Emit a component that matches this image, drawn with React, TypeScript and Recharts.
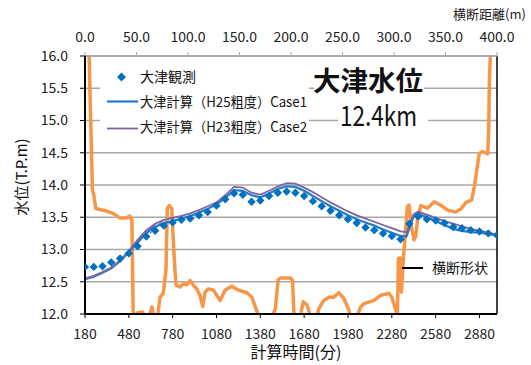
import React from 'react';
import { ComposedChart, Line, Scatter, XAxis, YAxis, CartesianGrid, ReferenceLine } from 'recharts';

// Hourly observed water level at Otsu (T.P.m)
const obsTimes = [
  180, 240, 300, 360, 420, 480, 540, 600, 660, 720, 780, 840, 900, 960, 1020, 1080,
  1140, 1200, 1260, 1320, 1380, 1440, 1500, 1560, 1620, 1680, 1740, 1800, 1860, 1920,
  1980, 2040, 2100, 2160, 2220, 2280, 2340, 2400, 2460, 2520, 2580, 2640, 2700, 2760,
  2820, 2880, 2940, 3000,
];
const obsLevels = [
  12.73, 12.73, 12.74, 12.8, 12.86, 12.94, 13.05, 13.2, 13.29, 13.37, 13.42, 13.46, 13.48, 13.53, 13.58, 13.68,
  13.78, 13.87, 13.85, 13.74, 13.76, 13.83, 13.88, 13.9, 13.88, 13.83, 13.75, 13.67, 13.6, 13.53,
  13.47, 13.41, 13.34, 13.3, 13.25, 13.21, 13.16, 13.4, 13.51, 13.47, 13.45, 13.41, 13.35, 13.33,
  13.3, 13.28, 13.25, 13.22,
];

// Computed water level, shared time steps for both roughness cases
const calcTimes = [
  180, 240, 300, 360, 420, 480, 540, 600, 660, 720, 780, 840, 900, 960, 1020, 1080,
  1140, 1200, 1260, 1320, 1380, 1440, 1500, 1560, 1620, 1680, 1740, 1800, 1860, 1920,
  1980, 2040, 2100, 2160, 2220, 2280, 2340, 2380, 2430, 2460, 2520, 2580, 2640, 2700,
  2760, 2820, 2880, 2940, 3000,
];
const case1Levels = [
  12.54, 12.58, 12.64, 12.71, 12.82, 12.96, 13.12, 13.26, 13.35, 13.41, 13.44, 13.48, 13.52, 13.57, 13.63, 13.7,
  13.8, 13.92, 13.91, 13.84, 13.81, 13.87, 13.94, 13.98, 13.97, 13.91, 13.83, 13.75, 13.67, 13.6,
  13.53, 13.47, 13.42, 13.37, 13.31, 13.26, 13.21, 13.2, 13.52, 13.56, 13.5, 13.44, 13.38, 13.32,
  13.29, 13.27, 13.26, 13.24, 13.22,
];
const case2Levels = [
  12.55, 12.59, 12.65, 12.72, 12.83, 12.98, 13.15, 13.3, 13.4, 13.46, 13.49, 13.52, 13.56, 13.61, 13.67, 13.73,
  13.84, 13.97, 13.96, 13.88, 13.85, 13.91, 13.98, 14.03, 14.02, 13.96, 13.89, 13.81, 13.73, 13.66,
  13.59, 13.53, 13.48, 13.43, 13.38, 13.33, 13.28, 13.27, 13.55, 13.59, 13.54, 13.49, 13.44, 13.4,
  13.36, 13.32, 13.29, 13.26, 13.23,
];

// Short restart traces in the early rising limb: [t0, v0, t1, v1]
const case1Restarts = [
  [500, 13.0, 560, 13.15],
  [540, 13.1, 620, 13.3],
  [590, 13.2, 650, 13.37],
];
const case2Restarts = [
  [489, 12.99, 558, 13.17],
  [512, 13.07, 602, 13.28],
  [546, 13.12, 636, 13.35],
  [580, 13.2, 670, 13.41],
  [626, 13.25, 716, 13.46],
];

// Cross-section profile: horizontal distance (m) vs bed elevation (T.P.m)
const sectionDist = [
  3.5, 4, 7.2, 8.5, 10.4, 14.3, 20, 27.3, 33.8, 40, 43.5, 45.5, 46.2, 46.8, 51, 56, 58, 63, 65, 67, 70,
  72.8, 76, 78.6, 79.9, 81.8, 84.2, 86.4, 88.3, 92.2, 95.5, 98.8, 102, 105, 108, 111.7, 114.3, 116.6,
  119.8, 124.7, 131.2, 136, 142.6, 149, 157.2, 162, 168.5, 172, 180, 184.8, 187.5, 190, 199.4, 201.5,
  203, 208, 212, 215.6, 219, 224, 227, 231.8, 236.7, 241.5, 246.4, 251.3, 256.2, 258, 264, 267.6,
  270.8, 280.5, 287, 295, 298, 301.6, 303.3, 304.3, 305.8, 307.2, 309.1, 310.7, 313, 314.6, 316.9,
  319.5, 321, 322.8, 326, 332.5, 339, 345, 352, 360, 365, 370, 375.5, 378, 382.8, 386, 391, 392,
  392.5, 393.5, 394,
];
const sectionLevels = [
  16.3, 16.0, 13.92, 13.85, 13.64, 13.62, 13.6, 13.56, 13.49, 13.49, 13.52, 13.46, 12.7, 11.95, 12.02, 12.03, 11.95, 12.0, 12.11, 11.95, 11.9,
  12.26, 12.32, 12.68, 13.64, 13.68, 13.64, 12.94, 12.45, 12.42, 12.47, 12.45, 12.52, 12.45, 12.4, 12.29, 12.12, 12.34,
  12.39, 12.37, 12.21, 12.37, 12.43, 12.37, 12.33, 12.26, 11.97, 11.9, 11.9, 12.08, 12.53, 12.56, 12.56, 12.52,
  11.95, 11.9, 12.19, 12.14, 11.95, 11.9, 12.08, 12.21, 12.26, 12.26, 12.33, 12.24, 12.06, 11.95, 11.95, 12.11,
  12.16, 12.21, 12.29, 12.32, 12.26, 12.06, 11.98, 12.86, 12.87, 12.34, 12.86, 13.2, 13.66, 13.69, 13.35,
  13.15, 13.2, 13.46, 13.68, 13.64, 13.74, 13.69, 13.61, 13.58, 13.63, 13.73, 13.77, 13.98, 14.49, 14.52, 14.48, 14.88,
  15.56, 16.0, 16.3,
];

const timeTicks = [180, 480, 780, 1080, 1380, 1680, 1980, 2280, 2580, 2880];
const distTicks = [0, 50, 100, 150, 200, 250, 300, 350, 400];
const levelTicks = [12, 12.5, 13, 13.5, 14, 14.5, 15, 15.5, 16];

const obsData = obsTimes.map((t, i) => ({ t, v: obsLevels[i] }));
const case1Data = calcTimes.map((t, i) => ({ t, v: case1Levels[i] }));
const case2Data = calcTimes.map((t, i) => ({ t, v: case2Levels[i] }));
const sectionData = sectionDist.map((d, i) => ({ d, v: sectionLevels[i] }));
const toSeg = (s: number[]) => [
  { t: s[0], v: s[1] },
  { t: s[2], v: s[3] },
];

const FONT = "'Noto Sans CJK JP', 'Noto Sans', sans-serif";
const BLUE = '#0070C0';
const BLUE_LINE = '#1F7BCB';
const PURPLE = '#8064A2';
const ORANGE = '#F79646';

const Diamond = (p: any) => {
  const { cx, cy } = p;
  const r = 4.2;
  return <path d={`M${cx},${cy - r}L${cx + r},${cy}L${cx},${cy + r}L${cx - r},${cy}Z`} fill={BLUE} />;
};

export default function App() {
  return (
    <div style={{ position: 'absolute', left: 0, top: 0, width: 531, height: 365, background: '#fff', fontFamily: FONT }}>
      <ComposedChart width={531} height={365} margin={{ top: 26, right: 34, bottom: 21, left: 25 }}>
        <CartesianGrid xAxisId="time" vertical={false} stroke="#A8A8A8" strokeWidth={1.5} />
        <XAxis
          xAxisId="time"
          type="number"
          dataKey="t"
          domain={[180, 3000]}
          ticks={timeTicks}
          allowDataOverflow
          height={30}
          tickSize={4}
          tickMargin={11}
          axisLine={{ stroke: '#000', strokeWidth: 2 }}
          tickLine={{ stroke: '#000' }}
          tick={{ fill: '#222', fontSize: 14, fontFamily: FONT }}
        />
        <XAxis
          xAxisId="dist"
          orientation="top"
          type="number"
          dataKey="d"
          domain={[0, 400]}
          ticks={distTicks}
          allowDataOverflow
          height={30}
          tickSize={4}
          tickMargin={10}
          tickFormatter={(v: number) => v.toFixed(1)}
          axisLine={{ stroke: '#A8A8A8', strokeWidth: 1.5 }}
          tickLine={{ stroke: '#A8A8A8' }}
          tick={{ fill: '#222', fontSize: 14, fontFamily: FONT }}
        />
        <YAxis
          type="number"
          domain={[12, 16]}
          ticks={levelTicks}
          allowDataOverflow
          width={60}
          tickSize={5}
          tickMargin={12}
          tickFormatter={(v: number) => v.toFixed(1)}
          axisLine={{ stroke: '#000', strokeWidth: 2 }}
          tickLine={{ stroke: '#000' }}
          tick={{ fill: '#222', fontSize: 14, fontFamily: FONT }}
        />
        <ReferenceLine xAxisId="time" x={3000} stroke="#000" strokeWidth={1.5} />
        <Line
          xAxisId="dist"
          data={sectionData}
          dataKey="v"
          stroke={ORANGE}
          strokeWidth={3.5}
          dot={false}
          isAnimationActive={false}
          strokeLinejoin="round"
        />
        {case1Restarts.map((s, i) => (
          <Line key={`c1r${i}`} xAxisId="time" data={toSeg(s)} dataKey="v" stroke={BLUE_LINE} strokeWidth={1.2} dot={false} isAnimationActive={false} />
        ))}
        {case2Restarts.map((s, i) => (
          <Line key={`c2r${i}`} xAxisId="time" data={toSeg(s)} dataKey="v" stroke={PURPLE} strokeWidth={1.2} dot={false} isAnimationActive={false} />
        ))}
        <Line xAxisId="time" data={case1Data} dataKey="v" stroke={BLUE_LINE} strokeWidth={2.2} dot={false} isAnimationActive={false} />
        <Line xAxisId="time" data={case2Data} dataKey="v" stroke={PURPLE} strokeWidth={1.8} dot={false} isAnimationActive={false} />
        <Scatter xAxisId="time" data={obsData} dataKey="v" shape={Diamond} isAnimationActive={false} />
      </ComposedChart>
      <svg width={531} height={365} style={{ position: 'absolute', left: 0, top: 0, pointerEvents: 'none' }} fontFamily={FONT}>
        {/* legend */}
        <rect x={100} y={64} width={209} height={73} fill="#fff" />
        <path d="M121.5,72.5L126,77L121.5,81.5L117,77Z" fill={BLUE} />
        <text x={140} y={81.5} fontSize={14} fill="#111">大津観測</text>
        <line x1={107} x2={138} y1={101.5} y2={101.5} stroke={BLUE_LINE} strokeWidth={2.2} />
        <text x={140} y={106.5} fontSize={14} fill="#111" textLength={167} lengthAdjust="spacingAndGlyphs">大津計算（H25粗度）Case1</text>
        <line x1={107} x2={138} y1={128.5} y2={128.5} stroke={PURPLE} strokeWidth={1.8} />
        <text x={140} y={132} fontSize={14} fill="#111" textLength={167} lengthAdjust="spacingAndGlyphs">大津計算（H23粗度）Case2</text>
        {/* title */}
        <rect x={314} y={68} width={110} height={27} fill="#fff" />
        <text x={313} y={91} fontSize={27} fontWeight="bold" fill="#111" textLength={110} lengthAdjust="spacingAndGlyphs">大津水位</text>
        <rect x={338} y={100} width={90} height={29} fill="#fff" />
        <text x={340} y={126} fontSize={28} fill="#111" textLength={77} lengthAdjust="spacingAndGlyphs">12.4km</text>
        {/* section annotation */}
        <line x1={402} x2={423} y1={268} y2={268} stroke="#000" strokeWidth={2} />
        <text x={432} y={273} fontSize={14} fill="#111">横断形状</text>
        {/* axis titles */}
        <text x={453} y={19} fontSize={13} fill="#222">横断距離(m)</text>
        <text x={296} y={358} fontSize={16} fill="#111" textAnchor="middle">計算時間(分)</text>
        <text x={0} y={0} fontSize={15} fill="#111" textAnchor="middle" transform="translate(27,177) rotate(-90)">水位(T.P.m)</text>
      </svg>
    </div>
  );
}
